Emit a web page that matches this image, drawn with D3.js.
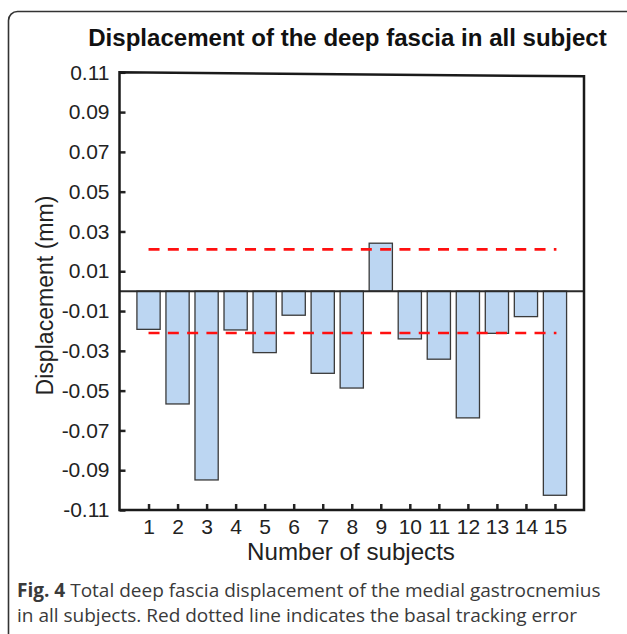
<!DOCTYPE html>
<html lang="en">
<head>
<meta charset="UTF-8" />
<title>Displacement of the deep fascia</title>
<script src="https://d3js.org/d3.v7.min.js"></script>
<style>
  body { margin: 0; background: #fff; overflow: hidden; }
  svg { display: block; background: #fff; }
  text { font-family: "Liberation Sans", Arial, sans-serif; fill: #222; }
  .caption { font-family: "Open Sans", sans-serif; fill: #3a3a3a; }
</style>
</head>
<body>
<svg id="chart" width="627" height="634"></svg>
<script>
// data
const subjects = [1, 2, 3, 4, 5, 6, 7, 8, 9, 10, 11, 12, 13, 14, 15];
const displacement = [-0.0192, -0.0567, -0.0949, -0.0195, -0.0309, -0.0121, -0.0413, -0.0487,
  0.0241, -0.0240, -0.0342, -0.0637, -0.0212, -0.0128, -0.1026];
const yTicks = [0.11, 0.09, 0.07, 0.05, 0.03, 0.01, -0.01, -0.03, -0.05, -0.07, -0.09, -0.11];
const trackingError = [0.021, -0.021];

const svg = d3.select("#chart");

const x = d3.scaleLinear().domain([0, 16]).range([119.5, 584]);
const y = d3.scaleLinear().domain([-0.11, 0.11]).range([510, 72.3]);
const step = x(1) - x(0);
const barW = step * 0.8;

// scale a text's font so it spans the given width
function fitWidth(sel, target) {
  const w = sel.node().getComputedTextLength();
  const fs = parseFloat(sel.style("font-size"));
  sel.style("font-size", (fs * target / w) + "px");
}

// outer rounded panel border
svg.append("path")
  .attr("d", "M8.5,640 L8.5,20.5 A9,9 0 0 1 17.5,11.5 L640,11.5")
  .attr("fill", "none")
  .attr("stroke", "#333")
  .attr("stroke-width", 1.6);

// title
const title = svg.append("text")
  .attr("x", 347.5).attr("y", 45.5)
  .attr("text-anchor", "middle")
  .style("font-weight", "bold")
  .style("font-size", "21px")
  .style("fill", "#111")
  .text("Displacement of the deep fascia in all subject");
fitWidth(title, 519);

// bars
svg.selectAll(".bar")
  .data(subjects)
  .enter()
  .append("rect")
  .attr("class", "bar")
  .attr("x", d => x(d) - barW / 2)
  .attr("y", (d, i) => y(Math.max(0, displacement[i])))
  .attr("width", barW)
  .attr("height", (d, i) => Math.abs(y(displacement[i]) - y(0)))
  .attr("fill", "#bcd6f2")
  .attr("stroke", "#3a3a3a")
  .attr("stroke-width", 1.3);

// zero line
svg.append("line")
  .attr("x1", x(0)).attr("x2", x(16))
  .attr("y1", y(0)).attr("y2", y(0))
  .attr("stroke", "#2a2a2a")
  .attr("stroke-width", 2);

// basal tracking error
svg.selectAll(".err")
  .data(trackingError)
  .enter()
  .append("line")
  .attr("class", "err")
  .attr("x1", x(1)).attr("x2", x(15.05))
  .attr("y1", d => y(d)).attr("y2", d => y(d))
  .attr("stroke", "#ff1010")
  .attr("stroke-width", 2.6)
  .attr("stroke-dasharray", "11,8.3");

// axes (ticks point inward)
const yAxis = svg.append("g")
  .attr("transform", `translate(${x(0)},0)`)
  .call(d3.axisLeft(y).tickValues(yTicks).tickFormat(d => d.toFixed(2))
    .tickSizeInner(-6).tickSizeOuter(0).tickPadding(10));
yAxis.select(".domain").remove();
yAxis.selectAll(".tick line").attr("stroke", "#222").attr("stroke-width", 2.5);
yAxis.selectAll(".tick text")
  .style("font-family", "'Liberation Sans', Arial, sans-serif")
  .style("font-size", "21px").attr("fill", "#222");

const xAxis = svg.append("g")
  .attr("transform", `translate(0,${y(-0.11)})`)
  .call(d3.axisBottom(x).tickValues(subjects).tickFormat(d => String(d))
    .tickSizeInner(-6).tickSizeOuter(0).tickPadding(9));
xAxis.select(".domain").remove();
xAxis.selectAll(".tick line").attr("stroke", "#222").attr("stroke-width", 2.5);
xAxis.selectAll(".tick text")
  .style("font-family", "'Liberation Sans', Arial, sans-serif")
  .style("font-size", "21px").attr("fill", "#222");

// plot frame, top edge slightly tilted as in the figure
const x0 = x(0), x1 = x(16), yt = y(0.11), yb = y(-0.11);
svg.append("path")
  .attr("d", `M${x0},${yt} L${x0},${yb} L${x1},${yb} L${x1},${yt + 4} Z`)
  .attr("fill", "none")
  .attr("stroke", "#1a1a1a")
  .attr("stroke-width", 2.5)
  .attr("stroke-linejoin", "miter");

// axis titles
const yLabel = svg.append("text")
  .attr("transform", "translate(53,295.5) rotate(-90)")
  .attr("text-anchor", "middle")
  .style("font-size", "20.5px")
  .text("Displacement (mm)");
fitWidth(yLabel, 200);

const xLabel = svg.append("text")
  .attr("x", 351).attr("y", 560)
  .attr("text-anchor", "middle")
  .style("font-size", "21px")
  .text("Number of subjects");
fitWidth(xLabel, 208);

// caption
const cap1 = svg.append("text")
  .attr("class", "caption")
  .attr("x", 17).attr("y", 597)
  .style("font-size", "18px");
cap1.append("tspan").style("font-weight", "bold").text("Fig. 4");
cap1.append("tspan").text(" Total deep fascia displacement of the medial gastrocnemius");
fitWidth(cap1, 584);

svg.append("text")
  .attr("class", "caption")
  .attr("x", 17).attr("y", 621.5)
  .style("font-size", cap1.style("font-size"))
  .text("in all subjects. Red dotted line indicates the basal tracking error");
</script>
</body>
</html>
